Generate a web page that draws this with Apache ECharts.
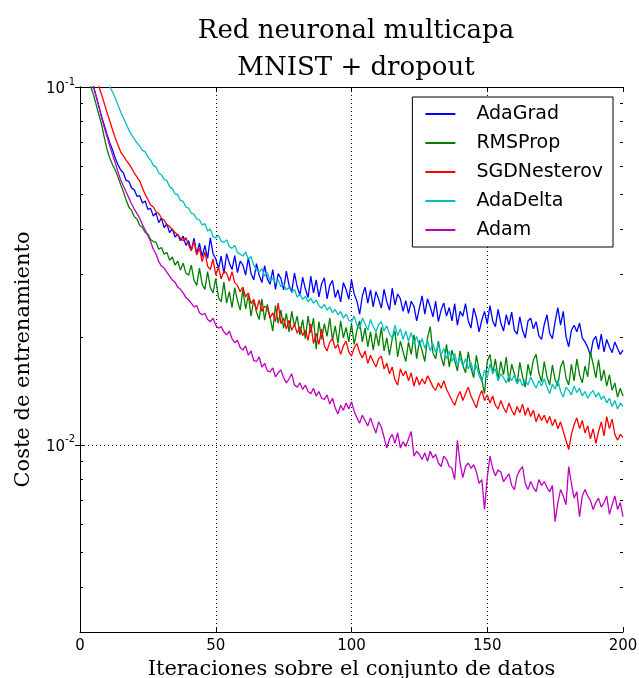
<!DOCTYPE html>
<html>
<head>
<meta charset="utf-8">
<script src="https://cdn.jsdelivr.net/npm/echarts@6/dist/echarts.min.js"></script>
<style>
  html, body { margin: 0; padding: 0; background: #fff; }
  #chart { width: 639px; height: 678px; }
</style>
</head>
<body>
<div id="chart"></div>
<script>
const seriesNames = ['AdaGrad', 'RMSProp', 'SGDNesterov', 'AdaDelta', 'Adam'];
const seriesColors = ['#0000ff', '#008000', '#ff0000', '#00bfbf', '#bf00bf'];

const xTicks = [0, 50, 100, 150, 200];
const yMajorTicks = [0.01, 0.1];
const yMinorTicks = [0.003, 0.004, 0.005, 0.006, 0.007, 0.008, 0.009,
                     0.02, 0.03, 0.04, 0.05, 0.06, 0.07, 0.08, 0.09];
const xGrid = [50, 100, 150];
const yGrid = [0.01];

const adagrad = [0.32,0.2,0.14,0.112,0.1,0.094,0.088,0.0825,0.078,0.0735,
0.0698,0.0667,0.0632,0.0606,0.0586,0.0575,0.0548,0.0545,0.0522,0.0516,
0.0495,0.0497,0.0474,0.048,0.0455,0.0458,0.0436,0.0445,0.0418,0.043,
0.0405,0.0414,0.0392,0.0402,0.0381,0.0388,0.0372,0.0383,0.0361,0.0372,
0.0349,0.0378,0.0341,0.0366,0.0336,0.0361,0.0332,0.0379,0.0342,0.0331,
0.0311,0.0337,0.0301,0.0342,0.0322,0.0309,0.0338,0.0303,0.0326,0.0318,
0.0298,0.0333,0.0301,0.0289,0.0321,0.0298,0.0284,0.0317,0.0291,0.0281,
0.0309,0.0272,0.0301,0.0292,0.0271,0.0306,0.0279,0.0268,0.0302,0.0277,
0.0262,0.0294,0.0273,0.0258,0.0296,0.0266,0.0289,0.0259,0.0282,0.0293,
0.0256,0.0279,0.0288,0.0258,0.0271,0.0251,0.0284,0.0272,0.0255,0.0289,
0.0264,0.0252,0.0232,0.0261,0.0276,0.0249,0.0271,0.0243,0.0268,0.0255,
0.0241,0.0272,0.0251,0.0238,0.0274,0.0246,0.0264,0.0256,0.0236,0.0253,
0.0233,0.0252,0.0244,0.0222,0.0241,0.0261,0.0232,0.0256,0.0243,0.0228,
0.0252,0.0221,0.0238,0.0249,0.0229,0.0242,0.0222,0.0248,0.0216,0.0236,
0.0229,0.0248,0.0222,0.0212,0.0241,0.0227,0.0207,0.0223,0.0236,0.0218,
0.0245,0.0222,0.0214,0.0239,0.0219,0.0208,0.0231,0.0216,0.0235,0.0209,
0.0204,0.0228,0.0209,0.0199,0.0222,0.0226,0.0211,0.0221,0.0202,0.0197,
0.0217,0.0231,0.0205,0.0198,0.0221,0.0242,0.0216,0.0236,0.0201,0.0188,
0.0209,0.0216,0.0207,0.0219,0.0199,0.0194,0.0187,0.0178,0.0196,0.0201,
0.0185,0.0204,0.0182,0.0197,0.0188,0.0181,0.0194,0.0186,0.0179,0.0184];

const rmsprop = [0.3,0.18,0.125,0.1,0.095,0.089,0.0835,0.0783,0.072,0.0667,
0.0632,0.0606,0.0586,0.056,0.0533,0.0509,0.0483,0.0462,0.0452,0.0434,
0.0428,0.041,0.0405,0.0392,0.0388,0.0375,0.037,0.0368,0.0352,0.0356,
0.0341,0.0345,0.0328,0.0335,0.0318,0.0326,0.0308,0.0322,0.0302,0.0298,
0.0318,0.0288,0.0279,0.0312,0.0281,0.0272,0.0305,0.0275,0.0266,0.0292,
0.0258,0.0251,0.0285,0.0249,0.0268,0.0242,0.0275,0.0253,0.0238,0.0272,
0.024,0.0262,0.0229,0.0254,0.0235,0.0224,0.0256,0.0223,0.0247,0.0228,
0.0208,0.0245,0.0219,0.0238,0.0212,0.0233,0.0207,0.0236,0.0214,0.0229,
0.0203,0.0224,0.0198,0.0229,0.0206,0.0226,0.0185,0.0221,0.0197,0.0218,
0.0201,0.0226,0.0196,0.0215,0.0192,0.0222,0.0199,0.0213,0.0194,0.0218,
0.0191,0.0209,0.0222,0.0194,0.0212,0.0188,0.0207,0.0184,0.0206,0.0189,
0.0213,0.0183,0.0199,0.0178,0.0198,0.0208,0.0176,0.0195,0.0182,0.0171,
0.0194,0.0179,0.0203,0.0174,0.0196,0.0183,0.0171,0.0199,0.0214,0.0181,
0.0174,0.0195,0.0176,0.0166,0.0191,0.0165,0.0184,0.0172,0.0161,0.0183,
0.0167,0.0159,0.0182,0.0164,0.0154,0.0178,0.0161,0.0152,0.0139,0.0171,
0.0179,0.0158,0.0174,0.0153,0.0171,0.0157,0.0176,0.015,0.0168,0.0158,
0.0148,0.017,0.0155,0.0145,0.0168,0.0156,0.0173,0.0179,0.0159,0.015,
0.0171,0.0155,0.0147,0.0167,0.0152,0.0146,0.0165,0.0172,0.0154,0.0147,
0.0168,0.0151,0.0174,0.0157,0.0149,0.0166,0.0155,0.0182,0.0168,0.0154,
0.0173,0.0151,0.0162,0.0146,0.0157,0.0142,0.0149,0.0136,0.0144,0.0137];

const sgdNesterov = [0.4,0.25,0.18,0.14,0.12,0.108,0.1,0.095,0.0897,0.0846,
0.0803,0.0758,0.072,0.0689,0.0658,0.0642,0.0625,0.061,0.0594,0.0575,
0.056,0.0546,0.0522,0.0501,0.0485,0.0468,0.0462,0.0448,0.0443,0.043,
0.0425,0.0412,0.0408,0.0399,0.0392,0.0386,0.0378,0.0372,0.0379,0.0362,
0.0349,0.0371,0.0339,0.0355,0.0325,0.0346,0.0316,0.0309,0.0331,0.0298,
0.0314,0.0291,0.0306,0.0302,0.0287,0.0305,0.0284,0.0279,0.0268,0.0276,
0.0259,0.0266,0.0248,0.0255,0.0238,0.0254,0.0236,0.0244,0.0241,0.0226,
0.0234,0.0221,0.0249,0.0218,0.0226,0.0211,0.0223,0.0209,0.0217,0.0205,
0.0214,0.0202,0.0209,0.0196,0.0218,0.0192,0.0205,0.0191,0.0211,0.0189,
0.0183,0.0194,0.0198,0.0186,0.0191,0.0179,0.0189,0.0195,0.0182,0.0177,
0.0187,0.0192,0.0181,0.0175,0.0183,0.0169,0.0178,0.0171,0.0165,0.0174,
0.0177,0.0163,0.0169,0.0158,0.0165,0.0152,0.0147,0.0163,0.0156,0.0161,
0.0151,0.0159,0.0146,0.0155,0.0147,0.0153,0.0148,0.0156,0.0151,0.0145,
0.0142,0.0149,0.0144,0.0151,0.0143,0.0138,0.0133,0.0129,0.0136,0.0141,
0.0133,0.0139,0.0145,0.0137,0.0132,0.0127,0.0136,0.0142,0.0133,0.0138,
0.0131,0.0137,0.0129,0.0126,0.0133,0.0127,0.0123,0.0131,0.0125,0.0121,
0.0128,0.0123,0.013,0.0121,0.0127,0.012,0.0125,0.0116,0.0122,0.0117,
0.0121,0.0115,0.012,0.0113,0.0118,0.0111,0.0116,0.0109,0.0103,0.0097,
0.0107,0.0114,0.0119,0.0111,0.0117,0.0108,0.0113,0.0104,0.0111,0.0101,
0.0109,0.0116,0.0106,0.012,0.0111,0.0118,0.0107,0.0103,0.0107,0.0105];

const adaDelta = [0.6,0.4,0.3,0.24,0.2,0.17,0.15,0.135,0.12,0.11,
0.1,0.0968,0.0932,0.089,0.0851,0.0819,0.0788,0.0758,0.0735,0.0716,
0.0698,0.0684,0.0665,0.0659,0.0638,0.0625,0.0604,0.0598,0.0575,0.0568,
0.0551,0.0548,0.0526,0.052,0.0503,0.05,0.0482,0.0479,0.0462,0.0459,
0.0444,0.0441,0.0428,0.0425,0.0412,0.0415,0.0396,0.0401,0.0382,0.0379,
0.0385,0.0371,0.0368,0.0374,0.0358,0.0354,0.0361,0.0345,0.0341,0.0337,
0.0346,0.033,0.0336,0.0318,0.0308,0.0304,0.0311,0.0296,0.0303,0.0287,
0.0292,0.0283,0.0289,0.0277,0.0282,0.0271,0.0276,0.0266,0.0272,0.0259,
0.0264,0.0255,0.026,0.0251,0.0257,0.0249,0.0254,0.0245,0.0241,0.0247,
0.0238,0.0243,0.0234,0.0239,0.0231,0.0236,0.0226,0.0232,0.0223,0.0221,
0.0229,0.0216,0.0211,0.0226,0.0218,0.0209,0.0224,0.0214,0.0207,0.0217,
0.0221,0.0208,0.0215,0.0204,0.0199,0.0216,0.0202,0.0211,0.0197,0.0208,
0.0195,0.0206,0.0192,0.0201,0.0189,0.0198,0.0186,0.0196,0.0183,0.0192,
0.0181,0.0191,0.0178,0.0186,0.0174,0.0183,0.0171,0.018,0.0167,0.0175,
0.0166,0.0174,0.0163,0.017,0.0159,0.0167,0.0156,0.015,0.0162,0.0154,
0.0168,0.0159,0.0163,0.0151,0.0158,0.0154,0.0149,0.0156,0.0151,0.0157,
0.0148,0.0153,0.0146,0.0152,0.0147,0.0155,0.0149,0.0144,0.0151,0.0146,
0.0153,0.0145,0.0139,0.0148,0.0143,0.0152,0.0141,0.0136,0.0145,0.0142,
0.0138,0.0146,0.014,0.0144,0.0137,0.0141,0.0135,0.0139,0.0142,0.0136,
0.014,0.0134,0.0137,0.0131,0.0135,0.0128,0.0133,0.0126,0.0131,0.0128];

const adam = [0.3,0.19,0.14,0.115,0.1,0.094,0.088,0.0819,0.0768,0.0725,
0.0684,0.0646,0.0613,0.0579,0.055,0.0529,0.0509,0.049,0.0471,0.0456,
0.0443,0.043,0.0412,0.0399,0.0384,0.037,0.0352,0.0342,0.0325,0.0316,
0.0312,0.0304,0.0296,0.0289,0.0285,0.0276,0.0272,0.0266,0.0258,0.0254,
0.0249,0.0243,0.0245,0.0234,0.0231,0.0233,0.0224,0.0221,0.0226,0.0216,
0.0212,0.0214,0.0207,0.0203,0.0208,0.0198,0.0193,0.0196,0.0187,0.0184,
0.0189,0.0178,0.0183,0.0172,0.0171,0.0176,0.0165,0.0169,0.0161,0.016,
0.0164,0.0155,0.0159,0.0162,0.0154,0.0149,0.0153,0.0158,0.0147,0.0145,
0.0149,0.0143,0.0147,0.0141,0.0139,0.0144,0.0137,0.0141,0.0135,0.0134,
0.0138,0.013,0.0135,0.0127,0.0122,0.0129,0.0125,0.0131,0.0126,0.0132,
0.0124,0.0119,0.0115,0.0121,0.0117,0.0113,0.0119,0.0113,0.0108,0.0116,
0.0112,0.0105,0.0098,0.0104,0.0107,0.0101,0.0108,0.0098,0.0102,0.0099,
0.0104,0.0109,0.0093,0.0096,0.0094,0.0091,0.0095,0.009,0.0096,0.0092,
0.0094,0.0089,0.0087,0.0093,0.0091,0.0087,0.0086,0.008,0.0103,0.0089,
0.0081,0.0087,0.0089,0.0086,0.0088,0.0084,0.0078,0.008,0.0066,0.0081,
0.0093,0.0086,0.0082,0.0085,0.0084,0.0079,0.0081,0.0083,0.0077,0.0075,
0.0082,0.0085,0.0087,0.0078,0.0075,0.0079,0.0076,0.0074,0.008,0.0077,
0.0079,0.0076,0.0074,0.0077,0.0061,0.0069,0.0075,0.0072,0.0068,0.0087,
0.0078,0.0071,0.0074,0.0063,0.0072,0.0075,0.0072,0.007,0.0066,0.0069,
0.0071,0.0067,0.0069,0.0072,0.0064,0.0068,0.0072,0.0066,0.0069,0.0063];

const allSeries = [adagrad, rmsprop, sgdNesterov, adaDelta, adam];
const iterations = adagrad.map((_, k) => k + 1);

const X_MIN = 0, X_MAX = 200, Y_MIN = 0.003, Y_MAX = 0.1;

const chart = echarts.init(document.getElementById('chart'), null, { renderer: 'canvas' });

function supLabel(v) {
  const e = Math.log10(v);
  const r = Math.round(e);
  if (Math.abs(e - r) > 1e-6) return '';
  return '{b|10}{s|' + r + '}';
}

const baseY = {
  type: 'log', logBase: 10, min: Y_MIN, max: Y_MAX,
  splitLine: { show: false },
  axisLine: { show: true, lineStyle: { color: '#000', width: 1 } }
};

const gridMarks = xGrid.map(v => ({ xAxis: v })).concat(yGrid.map(v => ({ yAxis: v })));

const lineSeries = seriesNames.map((name, idx) => ({
  name: name,
  type: 'line',
  xAxisIndex: 0,
  yAxisIndex: 0,
  data: allSeries[idx].map((v, k) => [iterations[k], v]),
  showSymbol: false,
  symbol: 'none',
  clip: true,
  color: seriesColors[idx],
  lineStyle: { color: seriesColors[idx], width: 1.3 },
  z: 3 + idx,
  markLine: idx === 0 ? {
    silent: true, symbol: ['none', 'none'], label: { show: false },
    lineStyle: { color: '#000', width: 1, type: [1, 3] },
    data: gridMarks, z: 1
  } : undefined
}));

const option = {
  animation: false,
  backgroundColor: '#fff',
  title: {
    text: 'Red neuronal multicapa\nMNIST + dropout',
    left: 351, top: 8, textAlign: 'center',
    textStyle: { fontFamily: 'DejaVu Serif', fontSize: 26, fontWeight: 'normal', color: '#000', lineHeight: 37 }
  },
  grid: { left: 80, right: 16, top: 87, bottom: 46, containLabel: false, outerBoundsMode: 'none' },
  legend: {
    data: seriesNames,
    orient: 'vertical',
    right: 26, top: 97,
    icon: 'rect', itemWidth: 30, itemHeight: 2, itemGap: 9,
    padding: [7, 10, 7, 13],
    backgroundColor: '#fff', borderColor: '#000', borderWidth: 1, borderRadius: 0,
    selectedMode: false,
    textStyle: { fontFamily: 'DejaVu Sans', fontSize: 19, color: '#000', lineHeight: 20, padding: [0, 0, 0, 16] }
  },
  xAxis: [
    {
      type: 'value', min: X_MIN, max: X_MAX, interval: 50, position: 'bottom',
      name: 'Iteraciones sobre el conjunto de datos', nameLocation: 'middle', nameGap: 19,
      nameTextStyle: { fontFamily: 'DejaVu Serif', fontSize: 21, color: '#000' },
      axisLine: { show: true, lineStyle: { color: '#000', width: 1 } },
      axisTick: { show: true, inside: true, length: 5, lineStyle: { color: '#000' } },
      axisLabel: { fontFamily: 'DejaVu Sans', fontSize: 15, color: '#000', margin: 7,
        customValues: xTicks },
      splitLine: { show: false }
    },
    {
      type: 'value', min: X_MIN, max: X_MAX, interval: 50, position: 'top',
      axisLine: { show: true, lineStyle: { color: '#000', width: 1 } },
      axisTick: { show: true, inside: true, length: 5, lineStyle: { color: '#000' } },
      axisLabel: { show: false },
      splitLine: { show: false }
    }
  ],
  yAxis: [
    Object.assign({}, baseY, {
      position: 'left',
      name: 'Coste de entrenamiento', nameLocation: 'middle', nameGap: 46, nameRotate: 90,
      nameTextStyle: { fontFamily: 'DejaVu Serif', fontSize: 21, color: '#000' },
      axisTick: { show: true, inside: true, length: 5, customValues: yMajorTicks, lineStyle: { color: '#000' } },
      axisLabel: {
        show: true, margin: 5, customValues: yMajorTicks,
        formatter: supLabel,
        rich: {
          b: { fontFamily: 'DejaVu Sans', fontSize: 15, color: '#000', lineHeight: 20, verticalAlign: 'bottom' },
          s: { fontFamily: 'DejaVu Sans', fontSize: 10, color: '#000', lineHeight: 10, verticalAlign: 'top' }
        }
      }
    }),
    Object.assign({}, baseY, {
      position: 'right',
      axisTick: { show: true, inside: true, length: 5, customValues: yMajorTicks, lineStyle: { color: '#000' } },
      axisLabel: { show: false }
    }),
    Object.assign({}, baseY, {
      position: 'left',
      axisLine: { show: false },
      axisTick: { show: true, inside: true, length: 3, customValues: yMinorTicks, lineStyle: { color: '#000' } },
      axisLabel: { show: false }
    }),
    Object.assign({}, baseY, {
      position: 'right',
      axisLine: { show: false },
      axisTick: { show: true, inside: true, length: 3, customValues: yMinorTicks, lineStyle: { color: '#000' } },
      axisLabel: { show: false }
    })
  ],
  series: lineSeries
};

chart.setOption(option);
</script>
</body>
</html>
